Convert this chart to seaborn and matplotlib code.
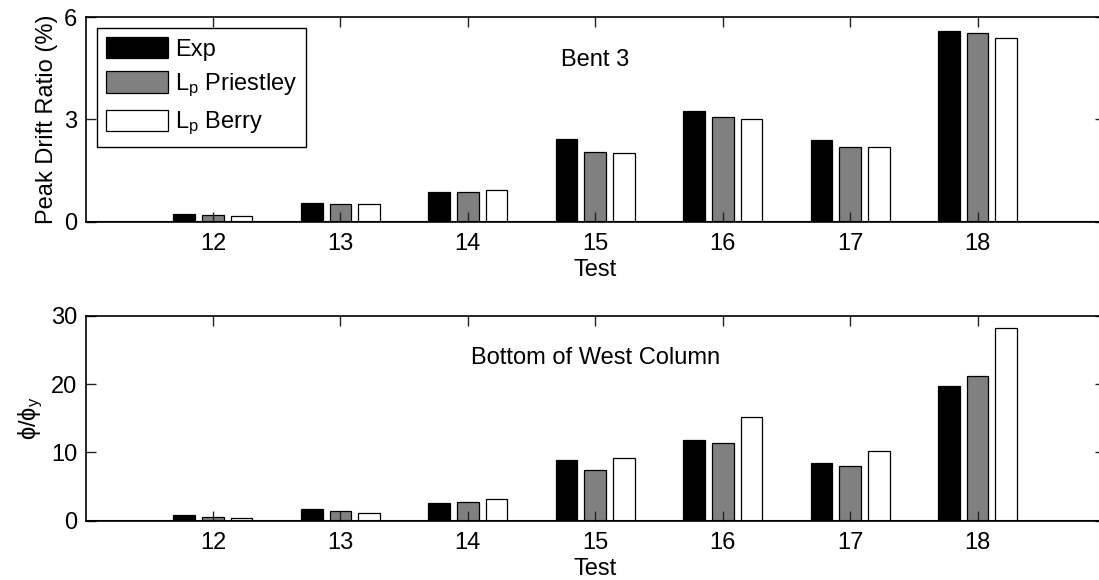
import numpy as np
import pandas as pd
import matplotlib
matplotlib.use("Agg")
import matplotlib.pyplot as plt
import matplotlib.patches as mpatches
import seaborn as sns

tests = ["12", "13", "14", "15", "16", "17", "18"]
series = ["Exp", "L$_\\mathregular{p}$ Priestley", "L$_\\mathregular{p}$ Berry"]
colors = ["#000000", "#808080", "#ffffff"]

drift_exp = [0.22, 0.56, 0.86, 2.43, 3.24, 2.39, 5.60]
drift_pri = [0.19, 0.52, 0.87, 2.06, 3.06, 2.18, 5.53]
drift_ber = [0.17, 0.51, 0.92, 2.03, 3.02, 2.18, 5.38]

curv_exp = [0.78, 1.66, 2.59, 8.84, 11.77, 8.45, 19.73]
curv_pri = [0.59, 1.37, 2.78, 7.38, 11.43, 7.96, 21.15]
curv_ber = [0.34, 1.12, 3.13, 9.18, 15.14, 10.26, 28.28]

drift_ticks = [0, 3, 6]
curv_ticks = [0, 10, 20, 30]


def long_df(a, b, c):
    rows = []
    for s, vals in zip(series, [a, b, c]):
        for t, v in zip(tests, vals):
            rows.append({"Test": t, "value": v, "series": s})
    return pd.DataFrame(rows)


plt.rcParams["font.family"] = ["Liberation Sans", "DejaVu Sans"]
plt.rcParams["mathtext.default"] = "regular"
plt.rcParams["font.size"] = 17
FS = 17

fig = plt.figure(figsize=(10.99, 5.80), dpi=100)
W, H = 1099.0, 580.0
left = 85.5 / W
width = (1105.0 - 85.5) / W
ax1 = fig.add_axes([left, 1 - 221.7 / H, width, (221.7 - 17.3) / H])
ax2 = fig.add_axes([left, 1 - 520.7 / H, width, (520.7 - 316.0) / H])


def draw(ax, df, ylim, yticks, ylabel, title, ty):
    sns.barplot(data=df, x="Test", y="value", hue="series", order=tests,
                hue_order=series, palette=colors, edgecolor="black",
                linewidth=0.9, width=0.675, gap=0.245, saturation=1,
                legend=False, ax=ax, errorbar=None)
    ax.set_xlim(-1, len(tests))
    ax.set_ylim(*ylim)
    ax.set_yticks(yticks)
    ax.set_yticklabels([str(v) for v in yticks])
    ax.set_xlabel("Test", fontsize=FS, labelpad=3)
    ax.set_ylabel(ylabel, fontsize=FS)
    ax.tick_params(direction="in", top=True, right=True, length=7,
                   width=1, labelsize=FS, color="#222222")
    ax.tick_params(axis="y", pad=6)
    ax.tick_params(axis="x", pad=8)
    for sp in ax.spines.values():
        sp.set_linewidth(1.2)
        sp.set_color("black")
    ax.axhline(0, color="black", linewidth=1.5, zorder=5)
    ax.text(3.0, ty, title, ha="center", va="center", fontsize=FS)


draw(ax1, long_df(drift_exp, drift_pri, drift_ber), (0, 6), drift_ticks,
     "Peak Drift Ratio (%)", "Bent 3", 4.75)
draw(ax2, long_df(curv_exp, curv_pri, curv_ber), (0, 30), curv_ticks,
     "$\\phi/\\phi_{y}$", "Bottom of West Column", 23.8)

handles = [mpatches.Patch(facecolor=c, edgecolor="black", linewidth=0.9)
           for c in colors]
leg = ax1.legend(handles, series, loc="upper left",
                 bbox_to_anchor=(0.011, 0.949), borderaxespad=0,
                 fontsize=FS, handlelength=2.6, handleheight=1.0,
                 labelspacing=0.45, handletextpad=0.3, borderpad=0.4,
                 fancybox=False, framealpha=1, edgecolor="black")
leg.get_frame().set_linewidth(1.0)

fig.savefig("out.png", dpi=100)
